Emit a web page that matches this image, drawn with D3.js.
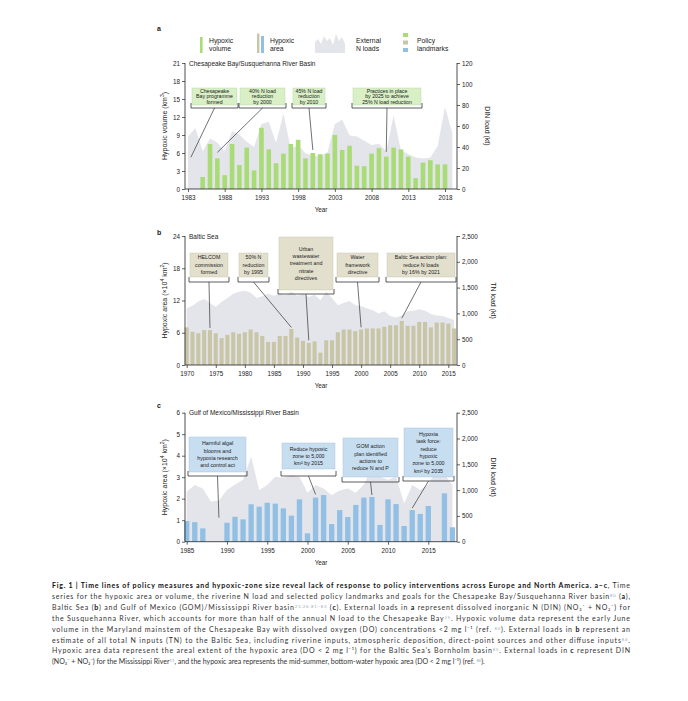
<!DOCTYPE html>
<html><head><meta charset="utf-8">
<script src="https://cdn.jsdelivr.net/npm/d3@7"></script>
<style>body{margin:0;background:#fff} svg{display:block}</style>
</head><body>
<svg id="fig" width="688" height="701"></svg>
<script>
// ---------------- DATA ----------------
// Panel a: Chesapeake Bay
const startA = 1983;
const volumeA = [null, null, 2.0, 7.5, 5.1, 2.3, 7.5, 4.0, 6.9, 3.1, 10.2, 6.6, 4.3, 5.9, 7.5, 8.2, 5.1, 6.0, 5.8, 5.9, 9.0, 6.5, 7.2, 3.9, 3.8, 5.9, 6.8, 5.4, 6.9, 6.6, 5.4, 1.8, 4.4, 4.8, 4.1, 4.1];
const dinA = [50, 58, 36, 48, 44, 36, 55, 52, 45, 40, 62, 64, 44, 72, 38, 42, 34, 32, 31, 35, 62, 66, 51, 50, 46, 42, 43, 36, 70, 37, 33, 30, 29, 30, 41, 78, 53];
const xTicksA = [1983, 1988, 1993, 1998, 2003, 2008, 2013, 2018];
const yTicksA = [0, 3, 6, 9, 12, 15, 18, 21];
const rTicksA = [0, 20, 40, 60, 80, 100, 120];

// Panel b: Baltic Sea
const startB = 1970;
const areaB = [7.0, 6.2, 5.9, 6.5, 6.5, 5.9, 5.0, 5.6, 6.1, 5.8, 6.1, 6.6, 6.1, 5.4, 4.3, 4.3, 5.4, 5.4, 6.7, 5.1, 4.5, 4.1, 4.4, 2.3, 4.6, 4.6, 6.1, 6.6, 6.6, 6.3, 6.6, 6.8, 6.8, 6.8, 7.1, 7.4, 7.4, 8.2, 7.3, 7.3, 8.0, 8.0, 7.0, 7.9, 7.9, 7.7, 6.8];
const tnB = [1100, 1150, 1230, 1280, 1200, 1130, 1220, 1300, 1380, 1420, 1440, 1400, 1300, 1330, 1380, 1340, 1390, 1350, 1420, 1340, 1380, 1320, 1360, 1260, 1420, 1300, 1160, 1200, 1240, 1160, 1140, 1100, 1060, 1000, 1040, 950, 920, 960, 1040, 1050, 1080, 1050, 990, 960, 950, 910, 870];
const xTicksB = [1970, 1975, 1980, 1985, 1990, 1995, 2000, 2005, 2010, 2015];
const yTicksB = [0, 6, 12, 18, 24];
const rTicksB = [0, 500, 1000, 1500, 2000, 2500];

// Panel c: Gulf of Mexico
const startC = 1985;
const areaC = [0.96, 0.91, 0.62, null, null, 0.88, 1.16, 1.04, 1.74, 1.63, 1.81, 1.77, 1.55, 1.21, 1.97, 0.39, 2.05, 2.17, 0.82, 1.47, 1.15, 1.71, 2.05, 2.08, 0.78, 1.97, 1.75, 0.73, 1.47, 1.29, 1.66, null, 2.25, 0.67];
const dinC = [970, 1100, 1030, 780, 800, 1000, 1110, 1200, 1650, 1000, 1100, 1260, 1240, 1290, 1260, 950, 1100, 1030, 900, 990, 1030, 950, 1110, 1430, 1260, 1200, 1260, 740, 1100, 1000, 1110, 1390, 1300, 1100];
const xTicksC = [1985, 1990, 1995, 2000, 2005, 2010, 2015];
const yTicksC = [0, 1, 2, 3, 4, 5, 6];
const rTicksC = [0, 500, 1000, 1500, 2000, 2500];

// Policy landmarks: text lines, target year, target value
const policyA = [
  {lines: ["Chesapeake", "Bay programme", "formed"], year: 1983.4, value: 5.3},
  {lines: ["40% N load", "reduction", "by 2000"], year: 1987, value: 6.1},
  {lines: ["45% N load", "reduction", "by 2010"], year: 2000, value: 6.5},
  {lines: ["Practices in place", "by 2025 to achieve", "25% N load reduction"], year: 2010, value: 6.2}
];
const policyB = [
  {lines: ["HELCOM", "commission", "formed"], year: 1974, value: 6.9},
  {lines: ["50% N", "reduction", "by 1995"], year: 1988, value: 7.0},
  {lines: ["Urban", "wastewater", "treatment and", "nitrate", "directives"], year: 1991, value: 4.6},
  {lines: ["Water", "framework", "directive"], year: 2000, value: 7.0},
  {lines: ["Baltic Sea action plan:", "reduce N loads", "by 16% by 2021"], year: 2007, value: 8.7}
];
const policyC = [
  {lines: ["Harmful algal", "blooms and", "hypoxia research", "and control act"], year: 1989, value: 1.12},
  {lines: ["Reduce hypoxic", "zone to 5,000", "km² by 2015"], year: 2001, value: 2.2},
  {lines: ["GOM action", "plan identified", "actions to", "reduce N and P"], year: 2008, value: 2.17},
  {lines: ["Hypoxia", "task force:", "reduce", "hypoxic", "zone to 5,000", "km² by 2035"], year: 2013, value: 1.56}
];

// ---------------- LAYOUT / STYLE ----------------
const FONT = "'Liberation Sans', Arial, Helvetica, sans-serif";
const AREA_FILL = "#e4e4eb";
const svg = d3.select("#fig");
const AX_L = 185, AX_R = 457;

function panel(cfg) {
  const g = svg.append("g").attr("font-family", FONT);
  const x = d3.scaleLinear().domain(cfg.xDomain).range(cfg.xRange);
  const yL = d3.scaleLinear().domain([0, cfg.yMax]).range([cfg.y0, cfg.y1]);
  const yR = d3.scaleLinear().domain([0, cfg.rMax]).range([cfg.y0, cfg.y1]);
  const step = x(cfg.xDomain[0] + 1) - x(cfg.xDomain[0]);
  const bw = step * cfg.barFrac;

  const loads = cfg.load.map((v, i) => ({year: cfg.start + i, v}));
  const bars = cfg.bars.map((v, i) => ({year: cfg.start + i, v})).filter(d => d.v != null);

  g.append("path").datum(loads)
    .attr("d", d3.area().x(d => x(d.year)).y0(cfg.y0).y1(d => yR(d.v)))
    .attr("fill", AREA_FILL);

  g.selectAll("rect.bar").data(bars).join("rect").attr("class", "bar")
    .attr("x", d => x(d.year) - bw / 2).attr("width", bw)
    .attr("y", d => yL(d.v)).attr("height", d => cfg.y0 - yL(d.v))
    .attr("fill", cfg.color);

  const styleAxis = sel => {
    sel.selectAll(".domain").remove();
    sel.selectAll("line").attr("stroke", "#222").attr("stroke-width", 0.7);
    sel.selectAll("text").attr("font-size", 6.3).attr("fill", "#222").attr("font-family", FONT);
  };
  const la = g.append("g").attr("transform", `translate(${AX_L},0)`)
    .call(d3.axisLeft(yL).tickValues(cfg.yTicks).tickSize(3).tickPadding(2).tickFormat(d3.format("d")));
  styleAxis(la);
  const ra = g.append("g").attr("transform", `translate(${AX_R},0)`)
    .call(d3.axisRight(yR).tickValues(cfg.rTicks).tickSize(3).tickPadding(2).tickFormat(d3.format(",")));
  styleAxis(ra);
  const ba = g.append("g").attr("transform", `translate(0,${cfg.y0})`)
    .call(d3.axisBottom(x).tickValues(cfg.xTicks).tickSize(3).tickPadding(4).tickFormat(d3.format("d")));
  styleAxis(ba);
  g.append("path").attr("d", `M${AX_L},${cfg.y1}V${cfg.y0}H${AX_R}V${cfg.y1}`)
    .attr("fill", "none").attr("stroke", "#222").attr("stroke-width", 0.8);

  g.append("text").attr("x", (AX_L + AX_R) / 2).attr("y", cfg.y0 + 23)
    .attr("text-anchor", "middle").attr("font-size", 6.3).attr("fill", "#222").text("Year");
  const ym = (cfg.y0 + cfg.y1) / 2;
  const lt = g.append("text").attr("transform", `translate(${cfg.lx},${ym}) rotate(-90)`)
    .attr("text-anchor", "middle").attr("font-size", 7).attr("fill", "#222");
  cfg.leftLabel(lt);
  g.append("text").attr("transform", `translate(${cfg.rx},${ym}) rotate(90)`)
    .attr("text-anchor", "middle").attr("font-size", 7).attr("fill", "#222").text(cfg.rightLabel);

  g.append("text").attr("x", 189).attr("y", cfg.y1 + 2.5).attr("font-size", 6.5).attr("fill", "#222").text(cfg.title);
  g.append("text").attr("x", 157).attr("y", cfg.letterY).attr("font-size", 7).attr("font-weight", "bold").attr("fill", "#222").text(cfg.letter);

  cfg.policies.forEach((p, i) => {
    const L = cfg.boxes[i];
    const cx = (L.x0 + L.x1) / 2;
    g.append("rect").attr("x", L.x0).attr("y", L.top).attr("width", L.x1 - L.x0).attr("height", L.bottom - L.top)
      .attr("fill", cfg.boxFill).attr("stroke", cfg.boxStroke).attr("stroke-width", 0.4);
    const n = p.lines.length;
    const mid = (L.top + L.bottom) / 2;
    p.lines.forEach((t, j) => {
      g.append("text").attr("x", cx).attr("y", mid + (j - (n - 1) / 2) * cfg.lineH + 1.8)
        .attr("text-anchor", "middle").attr("font-size", cfg.boxFont).attr("fill", "#222").text(t);
    });
    g.append("path").attr("d", `M${L.x0 - 1},${L.bracket - 5}V${L.bracket}H${L.x1 + 1}V${L.bracket - 5}`)
      .attr("fill", "none").attr("stroke", "#333").attr("stroke-width", 0.8);
    g.append("line").attr("x1", cx).attr("y1", L.bracket)
      .attr("x2", x(p.year)).attr("y2", yL(p.value))
      .attr("stroke", "#333").attr("stroke-width", 0.7);
  });
}

const supTxt = (sel, parts) => parts.forEach(([t, sup]) => sel.append("tspan").attr("baseline-shift", sup ? "super" : null).attr("font-size", sup ? 5 : null).text(t));

panel({
  start: startA, bars: volumeA, load: dinA, color: "#a9dc77",
  xDomain: [1983, 2018], xRange: [188, 445], y0: 189, y1: 63, yMax: 21, rMax: 120,
  xTicks: xTicksA, yTicks: yTicksA, rTicks: rTicksA, barFrac: 0.63,
  lx: 167, rx: 485, title: "Chesapeake Bay/Susquehanna River Basin", letter: "a", letterY: 31,
  leftLabel: t => supTxt(t, [["Hypoxic volume (km"], ["3", true], [")"]]),
  rightLabel: "DIN load (kt)",
  policies: policyA, boxFill: "#d9efc6", boxStroke: "#b5cfa0", lineH: 5.3, boxFont: 5.2,
  boxes: [
    {x0: 192, x1: 237, top: 88, bottom: 105, bracket: 108},
    {x0: 240, x1: 285, top: 88, bottom: 105, bracket: 108},
    {x0: 293, x1: 325, top: 88, bottom: 105, bracket: 108},
    {x0: 353, x1: 421, top: 88, bottom: 105, bracket: 108}
  ]
});

panel({
  start: startB, bars: areaB, load: tnB, color: "#c9c6a8",
  xDomain: [1970, 2015], xRange: [186.7, 448.3], y0: 365, y1: 236, yMax: 24, rMax: 2500,
  xTicks: xTicksB, yTicks: yTicksB, rTicks: rTicksB, barFrac: 0.7,
  lx: 167, rx: 491, title: "Baltic Sea", letter: "b", letterY: 235,
  leftLabel: t => supTxt(t, [["Hypoxic area (×10"], ["4", true], [" km"], ["2", true], [")"]]),
  rightLabel: "TN load (kt)",
  policies: policyB, boxFill: "#e2dfcd", boxStroke: "#c4c0a8", lineH: 7.4, boxFont: 5.3,
  boxes: [
    {x0: 190, x1: 228, top: 253, bottom: 277, bracket: 282},
    {x0: 239, x1: 268, top: 253, bottom: 277, bracket: 282},
    {x0: 279, x1: 333, top: 237, bottom: 290, bracket: 294},
    {x0: 337, x1: 378, top: 253, bottom: 277, bracket: 282},
    {x0: 387, x1: 455, top: 253, bottom: 277, bracket: 282}
  ]
});

panel({
  start: startC, bars: areaC, load: dinC, color: "#92c0e4",
  xDomain: [1985, 2015], xRange: [186.7, 428.3], y0: 541.7, y1: 412.7, yMax: 6, rMax: 2500,
  xTicks: xTicksC, yTicks: yTicksC, rTicks: rTicksC, barFrac: 0.66,
  lx: 167, rx: 491, title: "Gulf of Mexico/Mississippi River Basin", letter: "c", letterY: 408,
  leftLabel: t => supTxt(t, [["Hypoxic area (×10"], ["4", true], [" km"], ["2", true], [")"]]),
  rightLabel: "DIN load (kt)",
  policies: policyC, boxFill: "#c7ddf0", boxStroke: "#9fbfd9", lineH: 7.3, boxFont: 5.3,
  boxes: [
    {x0: 189, x1: 246, top: 437, bottom: 472, bracket: 476},
    {x0: 282, x1: 335, top: 443, bottom: 469, bracket: 476},
    {x0: 343, x1: 398, top: 438, bottom: 477, bracket: 482},
    {x0: 404, x1: 453, top: 428, bottom: 477, bracket: 481}
  ]
});

// ---------------- LEGEND ----------------
const lg = svg.append("g").attr("font-family", FONT).attr("font-size", 6.8).attr("fill", "#222");
lg.append("rect").attr("x", 200).attr("y", 37).attr("width", 2.6).attr("height", 16).attr("fill", "#a9dc77");
lg.append("text").attr("x", 209).attr("y", 42.5).text("Hypoxic");
lg.append("text").attr("x", 209).attr("y", 50.5).text("volume");
lg.append("rect").attr("x", 257).attr("y", 33.5).attr("width", 2.4).attr("height", 19.5).attr("fill", "#c9c6a8");
lg.append("rect").attr("x", 261).attr("y", 36).attr("width", 3).attr("height", 17).attr("fill", "#92c0e4");
lg.append("text").attr("x", 270).attr("y", 42.5).text("Hypoxic");
lg.append("text").attr("x", 270).attr("y", 50.5).text("area");
lg.append("path").attr("d", "M315,53 L315,42 L318,39 L321,44 L324,36 L327,41 L330,38 L333,45 L336,34 L339,41 L342,37 L345,44 L345,53 Z").attr("fill", AREA_FILL);
lg.append("text").attr("x", 356).attr("y", 42.5).text("External");
lg.append("text").attr("x", 356).attr("y", 50.5).text("N loads");
lg.append("rect").attr("x", 403).attr("y", 33).attr("width", 5).attr("height", 4).attr("fill", "#a9dc77");
lg.append("rect").attr("x", 403).attr("y", 40.5).attr("width", 5).attr("height", 4).attr("fill", "#c9c6a8");
lg.append("rect").attr("x", 403).attr("y", 48).attr("width", 5).attr("height", 4).attr("fill", "#92c0e4");
lg.append("text").attr("x", 417).attr("y", 42.5).text("Policy");
lg.append("text").attr("x", 417).attr("y", 50.5).text("landmarks");

// ---------------- CAPTION ----------------
const capLines = [
  [["Fig. 1 | Time lines of policy measures and hypoxic-zone size reveal lack of response to policy interventions across Europe and North America. a–c", "b"], [", Time"]],
  [["series for the hypoxic area or volume, the riverine N load and selected policy landmarks and goals for the Chesapeake Bay/Susquehanna River basin"], ["80", "s"], [" ("], ["a", "b"], ["),"]],
  [["Baltic Sea ("], ["b", "b"], [") and Gulf of Mexico (GOM)/Mississippi River basin"], ["23,26,81–83", "s"], [" ("], ["c", "b"], ["). External loads in "], ["a", "b"], [" represent dissolved inorganic N (DIN) (NO₃⁻ + NO₂⁻) for"]],
  [["the Susquehanna River, which accounts for more than half of the annual N load to the Chesapeake Bay"], ["25", "s"], [". Hypoxic volume data represent the early June"]],
  [["volume in the Maryland mainstem of the Chesapeake Bay with dissolved oxygen (DO) concentrations <2 mg l⁻¹ (ref. "], ["80", "s"], ["). External loads in "], ["b", "b"], [" represent an"]],
  [["estimate of all total N inputs (TN) to the Baltic Sea, including riverine inputs, atmospheric deposition, direct-point sources and other diffuse inputs"], ["84", "s"], ["."]],
  [["Hypoxic area data represent the areal extent of the hypoxic area (DO < 2 mg l⁻¹) for the Baltic Sea’s Bornholm basin"], ["85", "s"], [". External loads in "], ["c", "b"], [" represent DIN"]],
  [["(NO₃⁻ + NO₂⁻) for the Mississippi River"], ["11", "s"], [", and the hypoxic area represents the mid-summer, bottom-water hypoxic area (DO < 2 mg l⁻¹) (ref. "], ["86", "s"], [")."]]
];
const capWidths = [578, 578, 578, 578, 578, 578, 578, null];
const cap = svg.append("g").attr("font-family", "Lato, 'Open Sans', sans-serif").attr("font-size", 7.0).attr("fill", "#333");
capLines.forEach((parts, i) => {
  const t = cap.append("text").attr("x", 52).attr("y", 588 + i * 10.9);
  if (capWidths[i]) t.attr("textLength", capWidths[i]).attr("lengthAdjust", "spacing");
  parts.forEach(([s, k]) => {
    const ts = t.append("tspan").text(s);
    if (k === "b") ts.attr("font-weight", "bold").attr("fill", "#111");
    if (k === "s") ts.attr("font-size", 4.2).attr("baseline-shift", "super").attr("fill", "#9ab");
  });
});
</script>
</body></html>
